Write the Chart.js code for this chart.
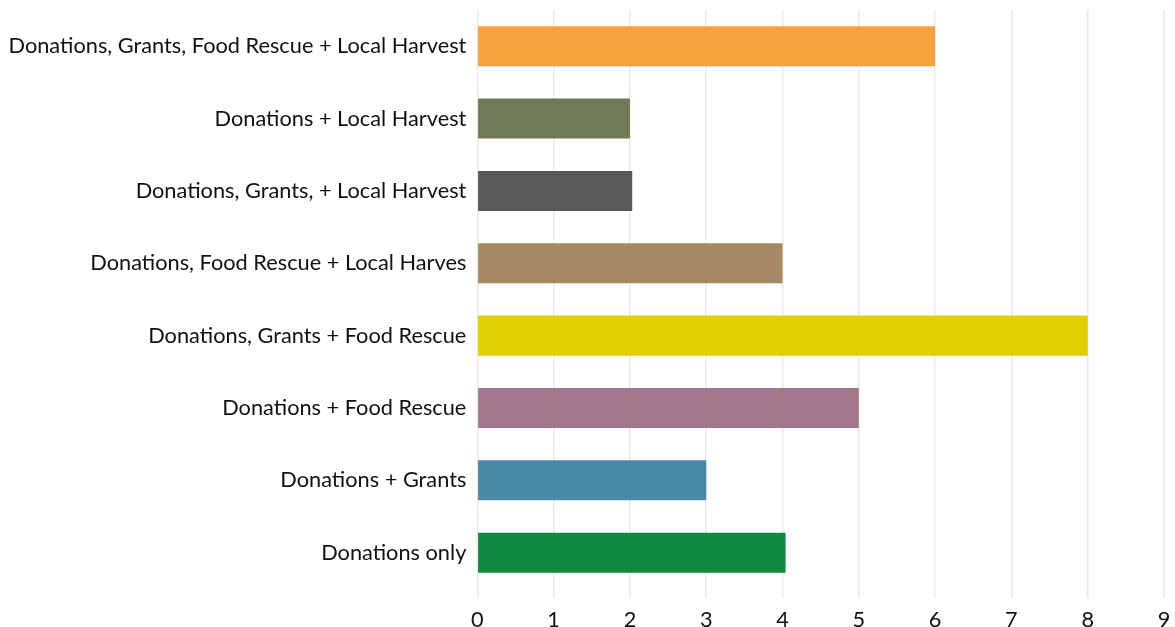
<!DOCTYPE html>
<html>
<head>
<meta charset="utf-8">
<script src="https://cdn.jsdelivr.net/npm/chart.js@4/dist/chart.umd.min.js"></script>
<style>
  html, body { margin: 0; padding: 0; background: #ffffff; }
  #wrap { width: 1175px; height: 627px; position: relative; }
</style>
</head>
<body>
<div id="wrap"><canvas id="chart"></canvas></div>
<script>
// Funding source combinations, listed top to bottom
const categories = [
  'Donations, Grants, Food Rescue + Local Harvest',
  'Donations + Local Harvest',
  'Donations, Grants, + Local Harvest',
  'Donations, Food Rescue + Local Harves',
  'Donations, Grants + Food Rescue',
  'Donations + Food Rescue',
  'Donations + Grants',
  'Donations only'
];

// Count for each combination
const counts = [6, 2, 2.03, 4, 8, 5, 3, 4.04];

// Bar fill for each combination
const barColors = [
  '#F8A13F',
  '#6F7B58',
  '#595959',
  '#A68A65',
  '#DFCF04',
  '#A3788D',
  '#4A8AA8',
  '#0E8A43'
];

const xTicks = [0, 1, 2, 3, 4, 5, 6, 7, 8, 9];

const FONT = "Lato, 'Open Sans', sans-serif";

// Let the layout padding alone decide the plot edges
function noEdgePadding(scale) {
  scale.paddingTop = 0;
  scale.paddingBottom = 0;
  scale.paddingLeft = 0;
  scale.paddingRight = 0;
}

new Chart(document.getElementById('chart'), {
  type: 'bar',
  data: {
    labels: categories,
    datasets: [{
      data: counts,
      backgroundColor: barColors,
      borderWidth: 0,
      barPercentage: 0.553,
      categoryPercentage: 1
    }]
  },
  options: {
    indexAxis: 'y',
    responsive: true,
    maintainAspectRatio: false,
    animation: false,
    layout: { padding: { top: 10, right: 11, bottom: -15, left: -2.5 } },
    plugins: {
      legend: { display: false },
      tooltip: { enabled: false }
    },
    scales: {
      x: {
        min: xTicks[0],
        max: xTicks[xTicks.length - 1],
        afterBuildTicks: (axis) => { axis.ticks = xTicks.map(v => ({ value: v })); },
        afterFit: noEdgePadding,
        grid: { color: '#EEE8E2', lineWidth: 1.5, drawTicks: true, tickLength: 9 },
        border: { display: false },
        ticks: {
          color: '#111111',
          font: { family: FONT, size: 21.75 },
          padding: 9
        }
      },
      y: {
        afterFit: noEdgePadding,
        grid: { display: false, drawTicks: false },
        border: { display: false },
        ticks: {
          color: '#111111',
          font: { family: FONT, size: 21.75 },
          padding: 11
        }
      }
    }
  }
});
</script>
</body>
</html>
